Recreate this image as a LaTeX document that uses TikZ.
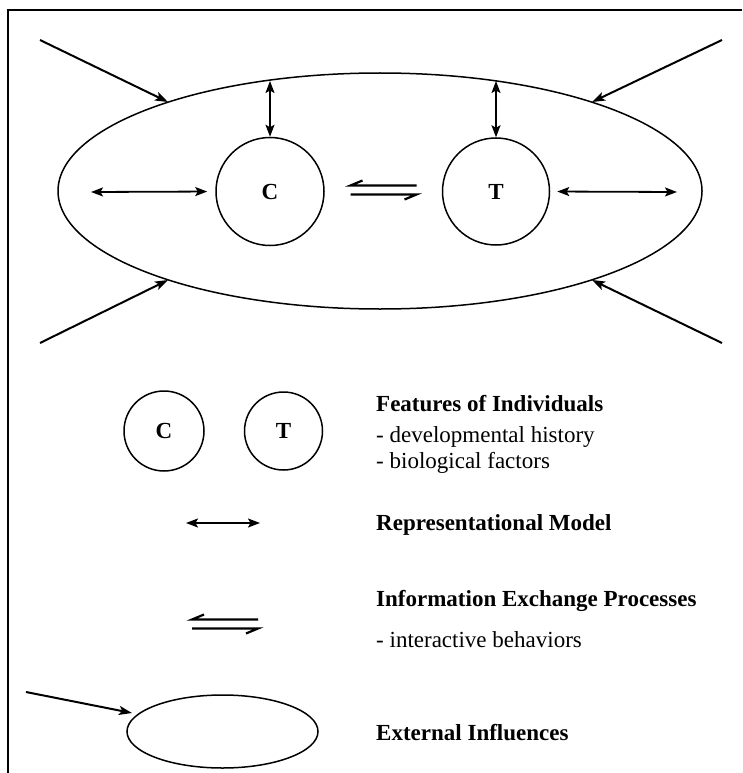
\documentclass[tikz,border=0pt]{standalone}
\usepackage{fontspec}
\setmainfont{Liberation Serif}
\usetikzlibrary{shapes.geometric,arrows.meta}
\begin{document}
\begin{tikzpicture}[x=1pt,y=-1pt,
  tip/.tip={Stealth[length=12pt,width=9pt,inset=2.5pt]},
  outline/.style={draw,line width=1.5pt,inner sep=0pt},
  arr/.style={line width=2pt,-{Stealth[length=13pt,width=9pt,inset=3pt]}},
  darr/.style={line width=1.8pt,{tip}-{tip}},
  indiv/.style={circle,outline,font=\fontsize{23}{27}\selectfont\bfseries},
  lab/.style={anchor=base west,inner sep=0pt,font=\fontsize{23}{27}\selectfont},
  harp/.pic={
    \draw[line width=2.2pt,line join=miter] (33,-4.5) -- (-33,-4.5) -- (-21,-9.5);
    \draw[line width=2.2pt,line join=miter] (-33,4.5) -- (33,4.5) -- (21,9.5);
  }]
\useasboundingbox (0,0) rectangle (742,773);
% frame
\draw[line width=2pt] (742,10) -- (7.5,10) -- (7.5,773);

% main picture
\node[ellipse,outline,minimum width=644pt,minimum height=236pt] (E) at (380,191) {};
\node[indiv,minimum size=108pt] (C) at (270,191.5) {C};
\node[indiv,minimum size=107pt] (T) at (496,191.5) {T};

\coordinate (cTop) at (270,81);
\coordinate (tTop) at (496,81);
\draw[darr] (cTop) -- (C.north);
\draw[darr] (tTop) -- (T.north);

\coordinate (lIn) at (91,192);
\coordinate (rIn) at (677,192);
\draw[darr,shorten >=8pt] (lIn) -- (C.west);
\draw[darr,shorten <=7pt] (T.east) -- (rIn);

\pic at (383.5,190) {harp};

% external influence arrows
\coordinate (tlO) at (40,40);   \coordinate (tlE) at (168,102);
\coordinate (trO) at (722,40);  \coordinate (trE) at (592,102);
\coordinate (blO) at (40,343);  \coordinate (blE) at (168,280);
\coordinate (brO) at (722,343); \coordinate (brE) at (592,280);
\draw[arr] (tlO) -- (tlE);
\draw[arr] (trO) -- (trE);
\draw[arr] (blO) -- (blE);
\draw[arr] (brO) -- (brE);

% legend
\node[indiv,minimum size=80pt] (lc) at (164,431) {C};
\node[indiv,minimum size=78pt] (lt) at (283.5,431) {T};
\node[lab] (f1) at (376,411) {\bfseries Features of Individuals};
\node[lab] (f2) at (376,442) {- developmental history};
\node[lab] (f3) at (376,468) {- biological factors};

\coordinate (la) at (186,523);
\coordinate (lb) at (260,523);
\draw[darr] (la) -- (lb);
\node[lab] (r1) at (376,530) {\bfseries Representational Model};

\pic at (225,624) {harp};
\node[lab] (i1) at (376,606) {\bfseries Information Exchange Processes};
\node[lab] (i2) at (376,647) {- interactive behaviors};

\node[ellipse,outline,minimum width=191pt,minimum height=73pt] (le) at (222.5,731.5) {};
\coordinate (leO) at (26,692);
\coordinate (leE) at (132,713);
\draw[arr] (leO) -- (leE);
\node[lab] (x1) at (376,740) {\bfseries External Influences};
\end{tikzpicture}
\end{document}
